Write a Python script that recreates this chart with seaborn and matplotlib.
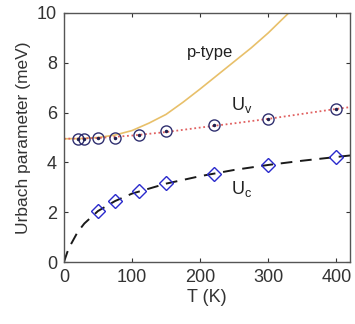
import numpy as np
import matplotlib
matplotlib.use("Agg")
import matplotlib.pyplot as plt
import seaborn as sns

# measured points
T_uv = [20, 30, 50, 75, 110, 150, 220, 300, 400]
Uv = [4.95, 4.95, 4.97, 5.0, 5.12, 5.25, 5.52, 5.75, 6.15]

T_uc = [50, 75, 110, 150, 220, 300, 400]
Uc = [2.05, 2.45, 2.85, 3.18, 3.52, 3.9, 4.2]

# fitted curves
T_fit_v = [0, 50, 100, 150, 200, 250, 300, 350, 400, 420]
Uv_fit = [4.95, 4.98, 5.08, 5.22, 5.4, 5.57, 5.75, 5.95, 6.15, 6.22]

T_fit_c = [0, 5, 10, 20, 30, 50, 75, 100, 150, 200, 250, 300, 350, 400, 420]
Uc_fit = [0, 0.4, 0.7, 1.2, 1.55, 2.05, 2.45, 2.75, 3.15, 3.45, 3.7, 3.9, 4.07, 4.22, 4.28]

T_p = [0, 25, 50, 75, 100, 125, 150, 175, 200, 225, 250, 275, 300, 330]
Up = [4.95, 4.96, 5.0, 5.1, 5.28, 5.58, 5.93, 6.42, 6.95, 7.5, 8.05, 8.6, 9.2, 10.0]

sns.set_style("white")
plt.rcParams['font.family'] = ['Liberation Sans', 'DejaVu Sans']

fig = plt.figure(figsize=(3.55, 3.24), dpi=100)
ax = fig.add_axes([0.180, 0.191, 0.806, 0.769])

sns.lineplot(x=T_p, y=Up, ax=ax, color='#e8c06a', lw=1.2)
sns.lineplot(x=T_fit_v, y=Uv_fit, ax=ax, color='#e06060', lw=1.3, linestyle=(0, (1, 1.5)))
sns.lineplot(x=T_fit_c, y=Uc_fit, ax=ax, color='#1a1a1a', lw=1.4, linestyle=(0, (6, 4)))

ax.plot(T_uv, Uv, linestyle='none', marker='o', ms=8, mfc='none', mec='#303070', mew=1.0)
ax.plot(T_uv, Uv, linestyle='none', marker='.', ms=3, color='#202050')
ax.plot(T_uc, Uc, linestyle='none', marker='D', ms=7.5, mfc='none', mec='#2a2acc', mew=1.0)

ax.text(215, 8.43, 'p-type', fontsize=12, ha='center', va='center', color='#222222')
ax.text(246, 6.1, r'U$_\mathregular{v}$', fontsize=13, color='#222222')
ax.text(246, 2.75, r'U$_\mathregular{c}$', fontsize=13, color='#222222')

ax.set_xlim(0, 420)
ax.set_ylim(0, 10)
ax.set_xticks([0, 100, 200, 300, 400])
ax.set_yticks([0, 2, 4, 6, 8, 10])
ax.tick_params(direction='in', length=3, width=0.8, labelsize=13, colors='#333333',
               bottom=True, left=True, top=True, right=True,
               labeltop=False, labelright=False, pad=5)
for s in ax.spines.values():
    s.set_color('#555555')
    s.set_linewidth(1.0)
ax.set_xlabel('T (K)', fontsize=13, color='#333333', labelpad=2)
ax.set_ylabel('Urbach parameter (meV)', fontsize=12.5, color='#333333', labelpad=4)

fig.savefig('out.png', dpi=100)
